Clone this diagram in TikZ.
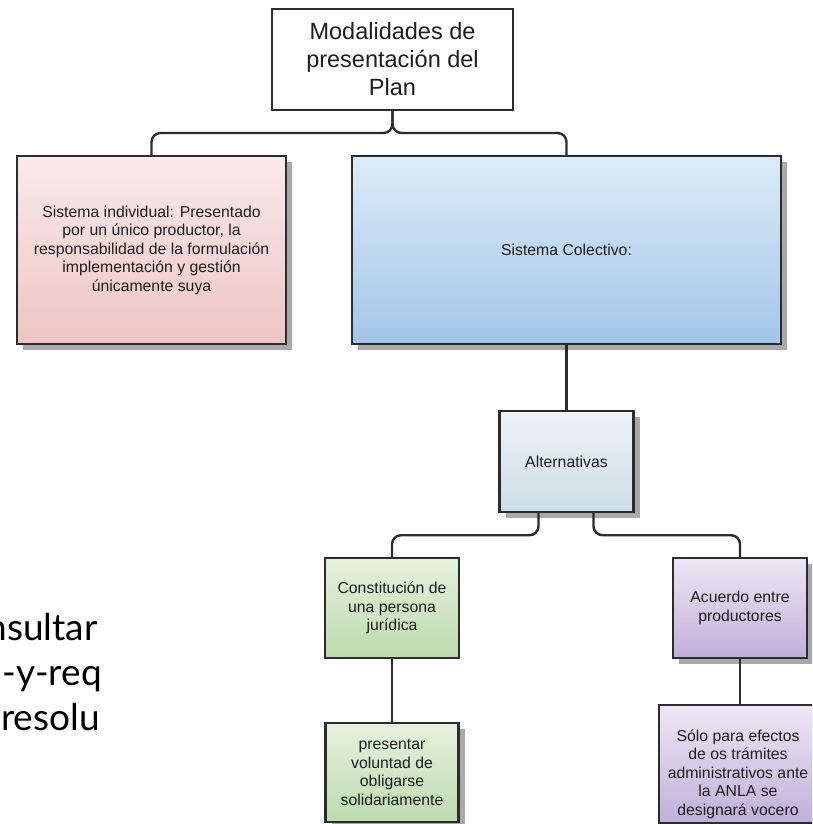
\documentclass[tikz,border=0pt]{standalone}
\usepackage{fontspec}
\setmainfont{Liberation Sans}
\newfontfamily\notefont{Lato}
\usetikzlibrary{shadows}

\definecolor{edge}{HTML}{2C2C2C}
\definecolor{txt}{HTML}{1E1E1E}
\definecolor{shadowgray}{HTML}{A9A9A9}
\definecolor{pinkTop}{HTML}{F9EAEA}
\definecolor{pinkBot}{HTML}{EEC4C4}
\definecolor{blueTop}{HTML}{DDEBF6}
\definecolor{blueBot}{HTML}{A2C5E8}
\definecolor{altTop}{HTML}{EEF3F6}
\definecolor{altBot}{HTML}{CCDDE5}
\definecolor{greenTop}{HTML}{E7F1DF}
\definecolor{greenBot}{HTML}{BCDAAE}
\definecolor{violetTop}{HTML}{ECE8F4}
\definecolor{violetBot}{HTML}{BEB0DA}

\begin{document}
\begin{tikzpicture}[x=1pt,y=-1pt,
  box/.style={draw=edge, line width=2.4pt, rectangle, align=center,
    text=txt, font=\fontsize{15.8}{18.5}\selectfont, inner sep=3pt},
  shadowed/.style={general shadow={fill=shadowgray, shadow xshift=6pt, shadow yshift=-6pt}},
  tint/.style 2 args={top color=#1, bottom color=#2},
  link/.style={draw=edge, line width=2.4pt, rounded corners=9pt},
  note/.style={font=\notefont\fontsize{37}{45}\selectfont, text=black, inner sep=0pt}
]
\useasboundingbox (0,0) rectangle (812,824);
\clip (0,0) rectangle (812,824);

% root
\node[box, fill=white, minimum width=241pt, minimum height=101pt,
  font=\fontsize{23.5}{28}\selectfont] (root) at (392.5,59.5)
  {Modalidades de\\presentación del\\Plan};

% first level
\node[box, shadowed, tint={pinkTop}{pinkBot}, minimum width=269pt, minimum height=188pt]
  (indiv) at (151.5,250)
  {Sistema individual: Presentado\\por un único productor, la\\responsabilidad de la formulación\\implementación y gestión\\únicamente suya};
\node[box, shadowed, tint={blueTop}{blueBot}, minimum width=429pt, minimum height=188pt]
  (colect) at (566.5,250) {Sistema Colectivo:};

% alternatives
\node[box, shadowed, tint={altTop}{altBot}, minimum width=134pt, minimum height=101pt]
  (alt) at (566.5,461.5) {Alternativas};

% left branch
\node[box, tint={greenTop}{greenBot}, minimum width=134pt, minimum height=100pt]
  (jur) at (392,608) {Constitución de\\una persona\\jurídica};
\node[box, shadowed, tint={greenTop}{greenBot}, minimum width=133pt, minimum height=99pt]
  (sol) at (392,772.5) {presentar\\voluntad de\\obligarse\\solidariamente};

% right branch
\node[box, shadowed, tint={violetTop}{violetBot}, minimum width=134pt, minimum height=100pt]
  (acu) at (740,608) {Acuerdo entre\\productores};
\node[box, shadowed, tint={violetTop}{violetBot}, minimum width=162pt, minimum height=118pt]
  (voc) at (740,764) {};
\node[align=center, text=txt, font=\fontsize{15.8}{18.5}\selectfont, inner sep=0pt]
  (voctext) at (738,774)
  {Sólo para efectos\\de os trámites\\administrativos ante\\la ANLA se\\designará vocero};

% connectors
\coordinate (hub) at (392.5,133);
\draw[link] (indiv.north) |- (hub) -- (root.south);
\draw[link] (colect.north) |- (hub) -- (root.south);
\draw[link] (colect.south) -- (colect.south |- alt.north);
\draw[link] ([xshift=-28pt]alt.south) -- ++(0,22) -| (jur.north);
\draw[link] ([xshift=27pt]alt.south) -- ++(0,22) -| (acu.north);
\draw[link] (jur.south) -- (sol.north);
\draw[link] (acu.south) -- (voc.north);

% text running past the left edge
\node[note, anchor=base east] (t1) at (98,640) {nsultar};
\node[note, anchor=base east] (t2) at (102,685) {-y-req};
\node[note, anchor=base east] (t3) at (100,730) {resolu};
\end{tikzpicture}
\end{document}
